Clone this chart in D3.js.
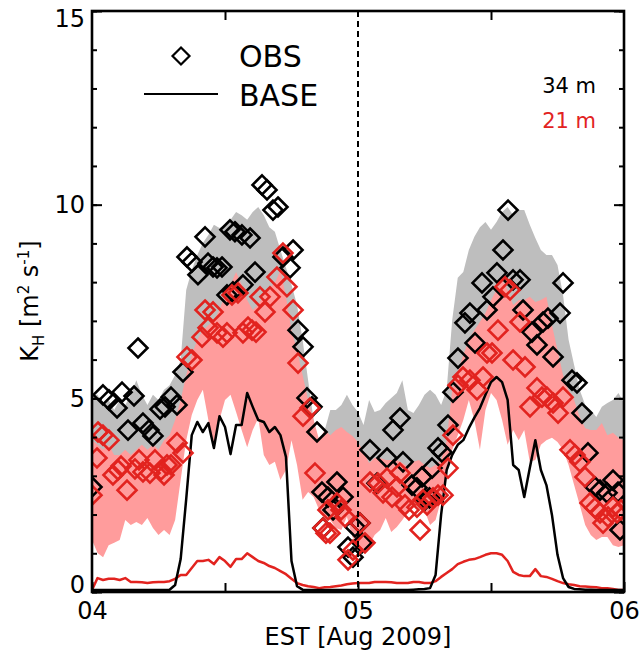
<!DOCTYPE html>
<html><head><meta charset="utf-8">
<script src="https://cdn.jsdelivr.net/npm/d3@7"></script>
<style>body{margin:0;background:#fff}svg{display:block}text{font-family:"DejaVu Sans",sans-serif}</style>
</head><body><div id="chart"></div>
<script>
// half-hourly model time grid, hours since 04 Aug 2009 00:00 EST
const modelHours = d3.range(0, 48.5, 0.5);
const xTickHours = [0, 24, 48];
const xTickLabels = ["04", "05", "06"];
const xMinorHours = [12, 36];
const yTickValues = [0, 5, 10, 15];

const base34 = [0.05,0.05,0.05,0.05,0.05,0.05,0.05,0.05,0.05,0.05,0.05,0.05,0.05,0.05,0.06,0.18,0.85,2.4,4.05,4.39,4.13,4.36,3.72,4.54,4.26,3.56,4.31,4.31,5.14,4.78,4.44,4.39,4.13,4.26,4.05,3.49,0.8,0.15,0.06,0.05,0.05,0.05,0.05,0.05,0.05,0.05,0.05,0.05,0.05,0.05,0.05,0.05,0.05,0.05,0.05,0.05,0.05,0.05,0.06,0.07,0.08,0.1,0.44,2.0,3.15,3.54,3.8,3.92,4.23,4.5,4.75,5.09,5.42,5.55,5.42,4.96,3.28,3.15,2.45,3.2,3.92,3.15,2.76,1.99,0.96,0.36,0.13,0.08,0.07,0.06,0.06,0.05,0.05,0.05,0.05,0.05,0.05];
const base21 = [0.05,0.36,0.31,0.34,0.34,0.31,0.36,0.26,0.26,0.25,0.23,0.25,0.26,0.26,0.28,0.34,0.44,0.44,0.62,0.8,0.8,0.83,0.72,0.9,0.8,0.65,0.85,0.85,1.0,0.9,0.8,0.75,0.67,0.62,0.54,0.46,0.34,0.23,0.18,0.15,0.13,0.1,0.12,0.13,0.15,0.17,0.2,0.22,0.23,0.23,0.23,0.26,0.26,0.26,0.25,0.23,0.23,0.23,0.26,0.26,0.23,0.23,0.28,0.39,0.49,0.59,0.72,0.78,0.83,0.85,0.9,0.96,1.0,1.0,0.96,0.8,0.52,0.44,0.41,0.41,0.59,0.41,0.39,0.34,0.28,0.23,0.2,0.18,0.15,0.14,0.13,0.12,0.1,0.1,0.08,0.05,0.05];

const range34High = [5.09,5.09,4.83,4.96,4.70,4.96,4.83,5.09,5.47,5.09,4.83,5.09,4.96,5.22,5.34,5.60,5.99,7.80,8.31,8.70,9.01,9.22,9.48,9.40,9.48,9.61,9.81,9.73,9.61,9.81,9.94,9.73,9.42,9.30,8.83,8.37,7.93,7.41,6.51,5.47,4.44,3.67,4.18,4.70,4.70,4.83,5.09,4.83,4.65,4.31,4.96,4.65,4.70,4.88,5.01,5.14,5.47,4.70,4.62,4.83,5.09,5.22,5.09,4.83,5.22,7.02,8.11,8.26,8.83,9.17,9.42,9.55,9.35,9.55,9.81,9.94,9.73,9.86,9.86,9.48,9.14,8.83,8.70,8.70,8.44,7.67,6.51,5.86,5.22,4.83,4.70,4.52,4.78,4.88,4.96,5.14,4.88];
const range34Low = [2.7,2.7,2.7,2.7,2.7,2.7,2.7,2.7,2.7,2.7,2.7,2.7,2.7,2.7,2.8,3.0,3.9,4.7,5.6,5.6,5.6,5.6,5.6,5.6,5.6,5.6,5.6,5.6,5.6,5.6,5.6,5.6,5.6,5.6,5.6,5.6,5.3,4.7,4.0,3.7,3.4,3.0,2.8,2.8,2.8,2.8,2.8,2.8,2.8,2.8,2.8,2.8,2.8,2.8,2.8,2.8,2.8,2.8,2.8,2.8,2.8,2.8,2.8,2.8,3.5,4.4,4.9,5.3,5.7,6.0,6.0,6.0,6.0,6.0,6.0,6.0,6.0,6.0,6.0,6.0,6.0,6.0,6.0,5.4,5.0,4.6,4.2,3.8,3.3,2.8,2.8,2.8,2.8,2.8,2.8,2.8,2.8];
const range21High = [3.92,3.80,3.67,3.80,3.54,3.54,3.67,3.54,3.67,3.80,3.67,3.80,3.67,3.92,4.05,4.44,4.96,5.60,6.12,6.51,6.76,6.89,7.02,7.28,7.67,7.93,8.26,7.93,7.54,7.28,7.41,7.67,7.85,7.98,8.31,7.62,6.76,6.25,5.60,4.96,4.44,3.92,4.18,4.05,4.18,4.26,4.13,4.03,3.87,3.61,3.33,3.46,3.46,3.41,3.41,3.41,3.33,3.23,3.36,3.41,3.28,3.20,3.28,3.41,3.92,5.22,5.68,6.12,6.51,6.76,6.97,7.20,7.54,7.80,8.06,7.80,7.41,7.54,7.54,7.62,7.49,7.54,7.62,6.89,6.25,5.60,5.22,4.96,4.52,4.23,4.18,4.18,4.36,4.05,4.11,3.98,3.92];
const range21Low = [1.34,1.01,0.90,1.21,1.27,1.34,1.86,1.73,1.81,1.73,1.91,1.65,1.47,1.60,1.47,1.86,2.89,3.92,4.57,4.96,5.22,4.44,3.67,4.44,4.96,5.09,4.65,4.18,3.74,4.18,4.49,3.54,3.28,3.36,2.89,3.15,3.92,3.28,2.38,2.58,2.45,2.12,1.91,1.86,1.65,1.60,1.94,1.42,1.21,1.08,1.21,1.47,1.60,1.91,1.55,1.68,1.86,2.07,2.19,2.25,2.12,1.73,1.86,2.38,3.15,3.67,4.05,4.44,4.96,4.44,3.67,4.70,5.14,4.96,4.44,3.80,4.18,3.92,4.18,3.36,3.41,3.80,3.92,3.98,3.87,3.67,3.28,2.76,2.25,1.73,1.47,1.34,1.42,1.42,1.21,1.16,1.21];

const obs34Hour = [0.0,0.99,1.53,2.26,2.71,3.79,3.25,4.15,4.60,5.14,5.50,6.14,6.59,7.13,7.67,8.21,8.57,9.02,9.56,10.2,10.47,10.92,11.28,11.73,12.45,12.9,13.53,14.26,14.71,13.62,12.18,12.72,15.34,15.79,16.33,16.78,18.14,17.23,17.87,18.59,19.04,19.40,19.85,20.3,20.75,21.29,22.1,22.65,21.75,20.84,23.1,23.73,24.18,24.36,23.55,25.08,25.72,26.62,27.16,27.79,28.06,28.87,29.32,29.78,30.05,30.45,30.68,31.22,31.58,32.12,32.57,33.02,33.65,34.1,34.56,35.64,36.18,35.19,36.54,37.08,37.54,37.99,38.62,38.89,39.7,40.15,40.69,41.14,42.23,41.6,42.5,43.31,43.76,44.21,44.75,45.38,45.84,46.47,47.01,47.64,47.46];
const obs34Val = [2.71,5.09,4.96,4.75,5.16,5.06,4.18,6.30,4.36,4.18,4.03,4.72,4.78,5.03,4.83,5.68,8.65,8.52,8.19,9.17,8.49,8.39,8.37,8.39,9.35,9.30,9.22,9.14,8.26,7.93,7.67,7.75,10.51,10.38,9.86,9.94,8.83,8.65,8.37,6.76,6.33,5.01,4.78,4.13,2.58,2.45,2.84,2.45,2.12,1.65,1.16,1.68,1.78,1.27,0.90,3.67,2.81,3.46,4.18,4.49,3.36,2.76,2.69,2.97,2.38,2.43,3.20,3.72,3.61,4.31,5.16,6.04,6.95,7.20,6.43,7.28,7.62,7.98,8.24,8.83,9.86,8.06,8.06,7.28,6.71,6.38,6.97,7.07,7.20,6.07,7.98,5.47,5.40,4.62,3.59,2.71,2.63,2.56,2.89,1.60,2.58];
const obs21Hour = [0.0,0.45,0.54,0.99,1.53,1.89,2.35,2.62,3.16,3.88,4.24,4.6,5.23,5.68,6.23,6.5,6.77,7.13,7.67,8.21,8.57,9.02,9.93,10.2,10.92,10.47,11.28,11.82,12.18,12.63,13.17,13.62,14.08,14.44,14.8,15.16,16.06,15.61,16.69,17.23,17.59,18.14,18.59,19.04,19.67,20.12,20.84,21.11,21.47,22.1,22.47,22.83,21.29,24.18,24.63,23.55,23.1,25.08,25.8,26.26,27.07,27.52,27.79,26.62,28.24,28.6,29.32,29.87,29.6,30.23,30.77,31.22,31.67,32.12,32.57,33.02,33.47,34.1,34.74,35.28,35.64,36.09,36.63,37.26,37.72,37.99,38.62,39.07,40.15,39.52,40.6,41.05,41.6,42.05,42.5,43.13,43.58,44.03,44.48,44.93,45.38,45.84,46.11,46.56,47.01,47.37,47.73];
const obs21Val = [2.5,3.46,4.13,4.05,3.92,3.02,3.15,3.25,2.63,3.18,3.41,3.10,3.07,3.41,3.15,3.02,3.28,3.28,3.85,3.59,6.07,5.99,6.58,7.28,7.23,6.82,6.69,6.58,6.69,7.67,7.72,6.69,6.84,6.76,6.71,7.62,7.62,7.23,8.13,8.75,7.88,7.28,5.91,4.54,4.75,3.07,1.65,1.52,1.52,2.30,2.12,1.94,2.12,1.78,1.27,1.08,0.83,2.84,2.81,2.56,2.45,2.71,3.07,2.94,2.25,2.12,2.19,2.38,1.60,2.25,2.43,2.50,2.50,3.20,4.05,5.34,5.55,5.47,5.22,5.55,6.17,6.17,6.76,7.88,7.80,5.99,6.97,5.81,5.27,4.78,5.03,5.03,4.88,4.62,5.03,3.67,3.54,3.36,2.97,2.30,2.17,2.04,1.78,1.94,2.19,2.04,2.12];

const W = 639, H = 663;
const L = 92, R = 624, T = 11, B = 592;
const RED = "#e2231f", PINK = "#ff9c9c", GRAY = "#bebebe";

const svg = d3.select("#chart").append("svg").attr("width", W).attr("height", H);
const x = d3.scaleLinear().domain([0, 48]).range([L, R]);
const y = d3.scaleLinear().domain([0, 15]).range([B, T]);

svg.append("clipPath").attr("id", "clip").append("rect")
  .attr("x", L).attr("y", T).attr("width", R - L).attr("height", B - T);
const plot = svg.append("g").attr("clip-path", "url(#clip)");

function band(hi, lo, color) {
  const area = d3.area().x((d, i) => x(modelHours[i])).y0((d, i) => y(lo[i])).y1(d => y(d));
  plot.append("path").datum(hi).attr("d", area).attr("fill", color);
}
band(range34High, range34Low, GRAY);
band(range21High, range21Low, PINK);

// dashed midnight line
svg.append("line").attr("x1", x(24)).attr("x2", x(24)).attr("y1", T).attr("y2", B)
  .attr("stroke", "#000").attr("stroke-width", 2).attr("stroke-dasharray", "6,4");

const line = d3.line().x((d, i) => x(modelHours[i])).y(d => y(d));
plot.append("path").datum(base21).attr("d", line).attr("fill", "none").attr("stroke", RED).attr("stroke-width", 2.5).attr("stroke-linejoin", "round");
plot.append("path").datum(base34).attr("d", line).attr("fill", "none").attr("stroke", "#000").attr("stroke-width", 2.5).attr("stroke-linejoin", "round");

const diamondType = { draw(ctx, size) { const r = Math.sqrt(size) / 2; ctx.moveTo(0, -r); ctx.lineTo(r, 0); ctx.lineTo(0, r); ctx.lineTo(-r, 0); ctx.closePath(); } };
const sym = d3.symbol().type(diamondType).size(19 * 19);
function diamonds(hours, vals, color) {
  plot.append("g").selectAll("path").data(hours).join("path")
    .attr("transform", (d, i) => `translate(${x(d)},${y(vals[i])})`)
    .attr("d", sym).attr("fill", "none").attr("stroke", color).attr("stroke-width", 2.6);
}
diamonds(obs34Hour, obs34Val, "#000");
diamonds(obs21Hour, obs21Val, RED);

// axes
const fs = "24px";
const axB = svg.append("g").attr("transform", `translate(0,${B})`)
  .call(d3.axisBottom(x).tickValues(xTickHours).tickFormat((d, i) => xTickLabels[i]).tickSizeInner(-10).tickSizeOuter(0).tickPadding(10));
const axBm = svg.append("g").attr("transform", `translate(0,${B})`)
  .call(d3.axisBottom(x).tickValues(xMinorHours).tickFormat("").tickSizeInner(-9).tickSizeOuter(0));
const axT = svg.append("g").attr("transform", `translate(0,${T})`)
  .call(d3.axisTop(x).tickValues(xMinorHours).tickFormat("").tickSizeInner(-9).tickSizeOuter(0));
const axL = svg.append("g").attr("transform", `translate(${L},0)`)
  .call(d3.axisLeft(y).tickValues(yTickValues).tickFormat(d3.format("d")).tickSizeInner(-10).tickSizeOuter(0).tickPadding(7));
const axLm = svg.append("g").attr("transform", `translate(${L},0)`)
  .call(d3.axisLeft(y).ticks(15).tickFormat("").tickSizeInner(-5).tickSizeOuter(0));
const axR = svg.append("g").attr("transform", `translate(${R},0)`)
  .call(d3.axisRight(y).tickValues(yTickValues).tickFormat("").tickSizeInner(-10).tickSizeOuter(0));
const axRm = svg.append("g").attr("transform", `translate(${R},0)`)
  .call(d3.axisRight(y).ticks(15).tickFormat("").tickSizeInner(-5).tickSizeOuter(0));
[axB, axBm, axT, axL, axLm, axR, axRm].forEach(g => {
  g.select(".domain").remove();
  g.selectAll("line").attr("stroke", "#000").attr("stroke-width", 2);
  g.selectAll("text").attr("fill", "#000").style("font-size", fs).style("font-family", "DejaVu Sans");
});
// end labels kept inside the axis span, as in the original
axL.selectAll(".tick text").attr("y", d => d === 15 ? 8 : d === 0 ? -7 : 0);

svg.append("rect").attr("x", L).attr("y", T).attr("width", R - L).attr("height", B - T)
  .attr("fill", "none").attr("stroke", "#000").attr("stroke-width", 2.6);

// axis titles
svg.append("text").attr("x", x(24)).attr("y", 645).attr("text-anchor", "middle")
  .style("font-size", "24px").text("EST [Aug 2009]");
const yt = svg.append("text").attr("transform", "translate(38,301) rotate(-90)").attr("text-anchor", "middle").style("font-size", "24px");
yt.append("tspan").text("K");
yt.append("tspan").attr("dy", 6).style("font-size", "15px").text("H");
yt.append("tspan").attr("dy", -6).text(" [m");
yt.append("tspan").attr("dy", -9).style("font-size", "15px").text("2");
yt.append("tspan").attr("dy", 9).text(" s");
yt.append("tspan").attr("dy", -9).style("font-size", "15px").text("-1");
yt.append("tspan").attr("dy", 9).text("]");

// legend
svg.append("path").attr("transform", "translate(181,56)").attr("d", d3.symbol().type(diamondType).size(17 * 17))
  .attr("fill", "none").attr("stroke", "#000").attr("stroke-width", 2.2);
svg.append("text").attr("x", 239).attr("y", 67).style("font-size", "30px").text("OBS");
svg.append("line").attr("x1", 144).attr("x2", 218).attr("y1", 94).attr("y2", 94).attr("stroke", "#000").attr("stroke-width", 2.2);
svg.append("text").attr("x", 239).attr("y", 106).style("font-size", "30px").text("BASE");
svg.append("text").attr("x", 596).attr("y", 93).attr("text-anchor", "end").style("font-size", "21px").attr("fill", "#000").text("34 m");
svg.append("text").attr("x", 596).attr("y", 128).attr("text-anchor", "end").style("font-size", "21px").attr("fill", RED).text("21 m");
</script></body></html>
